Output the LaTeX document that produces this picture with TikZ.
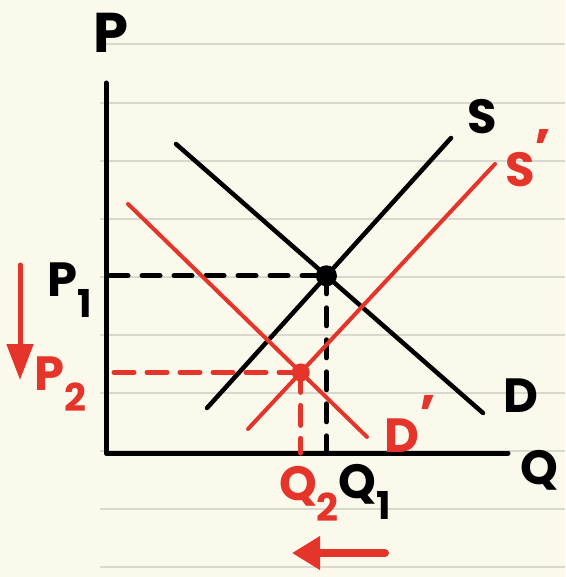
\documentclass[tikz,border=0pt]{standalone}
\usepackage{fontspec}
\setmainfont{Poppins}
\usetikzlibrary{arrows.meta,intersections}
\definecolor{paper}{HTML}{FBF9EC}
\definecolor{rulecol}{HTML}{D9D8CE}
\definecolor{redink}{HTML}{E5352B}
\newcommand{\lowsub}[1]{\raisebox{-0.45em}{\scalebox{0.8}{#1}}}
\newcommand{\handprime}{\raisebox{0.42em}{\scalebox{1.1}{’}}}
\tikzset{
  rule/.style={draw=rulecol, line width=2pt},
  axisline/.style={draw=black, line width=5pt, line cap=round, line join=round},
  curveblack/.style={draw=black, line width=4.5pt, line cap=round},
  curvered/.style={draw=redink, line width=4pt, line cap=round},
  dashblack/.style={draw=black, line width=5pt, line cap=round, dash pattern=on 18pt off 14pt},
  dashred/.style={draw=redink, line width=5pt, line cap=round, dash pattern=on 20pt off 13pt},
  bdot/.style={circle, fill=black, inner sep=0pt, minimum size=21pt},
  rdot/.style={circle, fill=redink, inner sep=0pt, minimum size=18pt},
  lbl/.style={inner sep=0pt, font=\fontsize{48}{50}\selectfont\bfseries},
  biglbl/.style={inner sep=0pt, font=\fontsize{56}{58}\selectfont\bfseries},
  redlbl/.style={lbl, text=redink},
  shiftarrow/.style={draw=redink, line cap=round}
}
\begin{document}
\begin{tikzpicture}[x=1pt,y=-1pt]
\fill[paper] (0,0) rectangle (565,577);
\useasboundingbox (0,0) rectangle (565,577);
% ruled paper
\foreach \yy in {44,103,161,219,277,335,393,451,509,567}
  \draw[rule] (100,\yy) -- (565,\yy);
% axes
\coordinate (ytop) at (106,83);
\coordinate (origin) at (106,453);
\coordinate (xend) at (508,453);
\draw[axisline] (ytop) -- (origin) -- (xend);
% curve end points
\coordinate (Slo) at (207,408);
\coordinate (Shi) at (451,138);
\coordinate (Dhi) at (176,144);
\coordinate (Dlo) at (483,413);
\coordinate (S2lo) at (248,429);
\coordinate (S2hi) at (495,164);
\coordinate (D2hi) at (128,204);
\coordinate (D2lo) at (367,437);
% original curves
\draw[curveblack, name path=S] (Slo) -- (Shi);
\draw[curveblack, name path=D] (Dhi) -- (Dlo);
\path[name intersections={of=S and D, by=E1pt}];
\node[bdot] (E1) at (E1pt) {};
\coordinate (P1axis) at (origin |- E1);
\coordinate (Q1axis) at (E1 |- origin);
\draw[dashblack] ([xshift=4pt]P1axis) -- (E1.center);
\draw[dashblack] (E1.center) -- (Q1axis);
% shifted curves
\draw[curvered, name path=S2] (S2lo) -- (S2hi);
\draw[curvered, name path=D2] (D2hi) -- (D2lo);
\path[name intersections={of=S2 and D2, by=E2pt}];
\node[rdot] (E2) at (E2pt) {};
\coordinate (P2axis) at (origin |- E2);
\coordinate (Q2axis) at (E2 |- origin);
\draw[dashred] ([xshift=8pt]P2axis) -- (E2.center);
\draw[dashred] (E2.center) -- (Q2axis);
% labels
\node[biglbl] (Plbl) at (111,33) {P};
\node[lbl, anchor=west] (Qlbl) at (520,470) {Q};
\node[lbl] (Slbl) at (482,117) {S};
\node[lbl] (Dlbl) at (521,396) {D};
\node[redlbl, anchor=west] (S2lbl) at (505,158) {S\handprime};
\node[redlbl, anchor=west] (D2lbl) at (384,424) {D\handprime};
\node[lbl] (P1lbl) at (70,290) {P\lowsub{1}};
\node[redlbl] (P2lbl) at (60,384) {P\lowsub{2}};
\node[redlbl] (Q2lbl) at (309,494) {Q\lowsub{2}};
\node[lbl] (Q1lbl) at (365,492) {Q\lowsub{1}};
% shift arrows
\coordinate (downA) at (20,265);
\coordinate (downB) at (20,380);
\draw[shiftarrow, line width=5pt, -{Triangle[length=36pt,width=26pt]}] (downA) -- (downB);
\coordinate (leftA) at (385,553);
\coordinate (leftB) at (292,553);
\draw[shiftarrow, line width=8pt, -{Triangle[length=28pt,width=32pt]}] (leftA) -- (leftB);
\end{tikzpicture}
\end{document}
